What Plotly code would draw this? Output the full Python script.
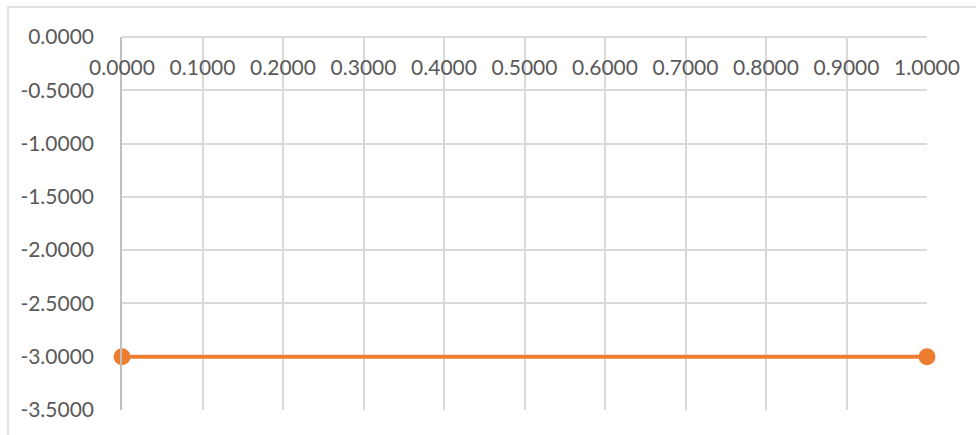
import plotly.graph_objects as go

# Series data
x_values = [0.0, 1.0]
y_values = [-3.0, -3.0]

# Axis ticks
x_ticks = [round(i * 0.1, 1) for i in range(11)]
y_ticks = [0.0, -0.5, -1.0, -1.5, -2.0, -2.5, -3.0, -3.5]

ORANGE = "#ED7D31"
GRID = "#d9d9d9"
TEXT = "#595959"
FONT = "Lato"
FSIZE = 21

fig = go.Figure()
fig.add_trace(go.Scatter(
    x=x_values, y=y_values,
    mode="lines+markers",
    line=dict(color=ORANGE, width=4),
    marker=dict(color=ORANGE, size=17),
    cliponaxis=False,
    showlegend=False,
))

W, H = 976, 435
ml, mr, mt, mb = 122, 49, 37, 25

fig.update_layout(
    width=W, height=H,
    margin=dict(l=ml, r=mr, t=mt, b=mb, pad=0),
    paper_bgcolor="white",
    plot_bgcolor="white",
    font=dict(family=FONT, size=FSIZE, color=TEXT),
    xaxis=dict(
        range=[0, 1],
        tickvals=x_ticks,
        ticktext=[f"{v:.4f}" for v in x_ticks],
        anchor="free", position=1, side="bottom",
        ticklabelstandoff=16,
        showgrid=True, gridcolor=GRID, gridwidth=1.5,
        zeroline=False, showline=False,
        ticks="",
        tickfont=dict(family=FONT, size=FSIZE, color=TEXT),
    ),
    yaxis=dict(
        range=[-3.5, 0],
        tickvals=y_ticks,
        ticktext=[f"{v:.4f}" for v in y_ticks],
        showgrid=True, gridcolor=GRID, gridwidth=1.5,
        zeroline=True, zerolinecolor=GRID, zerolinewidth=1.5,
        showline=True, linecolor="#bfbfbf", linewidth=1.5,
        ticks="",
        ticklabelstandoff=22,
        tickfont=dict(family=FONT, size=FSIZE, color=TEXT),
    ),
)

# Chart area border
pw = W - ml - mr
ph = H - mt - mb
fig.add_shape(
    type="rect", xref="paper", yref="paper",
    x0=(8 - ml) / pw, x1=(W + 20 - ml) / pw,
    y0=-(mb + 20) / ph, y1=1 + (mt - 7) / ph,
    line=dict(color=GRID, width=1.5),
    fillcolor="rgba(0,0,0,0)",
    layer="below",
)

fig.write_html("out.html")
